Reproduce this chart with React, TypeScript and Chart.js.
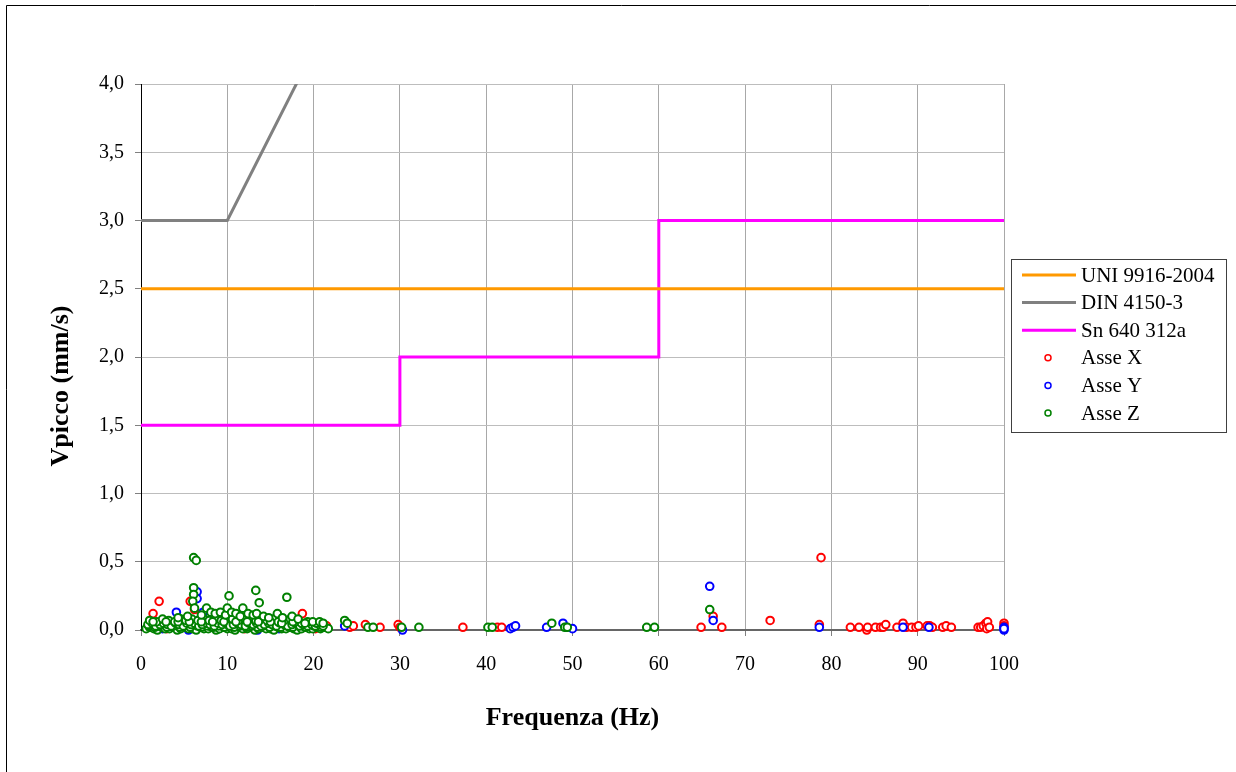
import React, { useEffect, useRef } from "react";
import { Chart, registerables } from "chart.js";

Chart.register(...registerables);

// ---------- Data ----------
const xTicks = [0, 10, 20, 30, 40, 50, 60, 70, 80, 90, 100];
const yTicks = [0, 0.5, 1, 1.5, 2, 2.5, 3, 3.5, 4];

const uniLine: [number, number][] = [[0, 2.5], [100, 2.5]];
const dinLine: [number, number][] = [[0, 3], [10, 3], [50, 8]];
const snLine: [number, number][] = [[0, 1.5], [30, 1.5], [30, 2], [60, 2], [60, 3], [100, 3]];

const asseX: [number, number][] = [
  [1.4, 0.12], [2.1, 0.21], [5.7, 0.21], [18.7, 0.12], [6.2, 0.15],
  [3.0, 0.01], [5.0, 0.03], [8.5, 0.02], [12.0, 0.01], [14.5, 0.03], [17.0, 0.02], [20.2, 0.01], [21.5, 0.03],
  [24.2, 0.02], [24.6, 0.03], [26.0, 0.04], [27.7, 0.02], [29.8, 0.04], [30.0, 0.02], [37.3, 0.02],
  [41.3, 0.02], [41.8, 0.02], [64.9, 0.02], [66.3, 0.10], [67.3, 0.02], [72.9, 0.07], [78.6, 0.04],
  [78.8, 0.53], [82.2, 0.02], [83.2, 0.02], [84.1, 0.0], [84.2, 0.02], [85.1, 0.02], [85.7, 0.02],
  [86.0, 0.02], [86.3, 0.04], [87.6, 0.02], [88.3, 0.05], [88.7, 0.02], [89.3, 0.02], [89.8, 0.02],
  [90.1, 0.03], [91.1, 0.03], [91.4, 0.03], [91.7, 0.02], [92.9, 0.02], [93.3, 0.03], [93.9, 0.02],
  [97.0, 0.02], [97.3, 0.02], [97.6, 0.03], [97.9, 0.05], [98.1, 0.06], [98.0, 0.01], [98.3, 0.02],
  [100, 0.05], [100, 0.03],
];

const asseY: [number, number][] = [
  [4.1, 0.13], [6.5, 0.28], [6.5, 0.23], [7.2, 0.13], [1.0, 0.03], [2.5, 0.01], [5.5, 0.0], [9.0, 0.01],
  [11.0, 0.02], [13.5, 0.0], [16.0, 0.01], [19.0, 0.02],
  [23.6, 0.03], [30.3, 0.0], [42.8, 0.01], [43.1, 0.02], [43.4, 0.03], [47.0, 0.02], [48.9, 0.05],
  [49.3, 0.02], [50.0, 0.01], [65.9, 0.32], [66.3, 0.07], [78.6, 0.02], [88.3, 0.02], [91.3, 0.02],
  [100, 0.0], [100, 0.02], [100, 0.01],
];

const asseZ: [number, number][] = [
  // bottom row
  [0.6, 0.01], [1.0, 0.02], [1.5, 0.01], [1.9, 0.0], [2.4, 0.02], [2.8, 0.01], [3.3, 0.01], [3.7, 0.02],
  [4.2, 0.0], [4.6, 0.01], [5.1, 0.02], [5.5, 0.01], [6.0, 0.01], [6.4, 0.0], [6.9, 0.02], [7.3, 0.01],
  [7.8, 0.01], [8.2, 0.02], [8.7, 0.0], [9.1, 0.01], [9.6, 0.02], [10.0, 0.01], [10.5, 0.01], [10.9, 0.0],
  [11.4, 0.02], [11.8, 0.01], [12.3, 0.01], [12.7, 0.02], [13.2, 0.0], [13.6, 0.01], [14.1, 0.02],
  [14.5, 0.01], [15.0, 0.01], [15.4, 0.0], [15.9, 0.02], [16.3, 0.01], [16.8, 0.01], [17.2, 0.02],
  [17.7, 0.01], [18.1, 0.0], [18.6, 0.01], [19.0, 0.02], [19.5, 0.01], [19.9, 0.01], [20.4, 0.02],
  [20.8, 0.01], [21.3, 0.02], [21.7, 0.01],
  // between rows
  [0.9, 0.03], [1.6, 0.02], [2.1, 0.03], [3.0, 0.02], [3.8, 0.03], [4.5, 0.02], [5.0, 0.03], [5.7, 0.02],
  [6.5, 0.03], [7.0, 0.02], [7.7, 0.03], [8.4, 0.02], [9.0, 0.03], [9.7, 0.02], [10.2, 0.03], [10.8, 0.02],
  [11.5, 0.03], [12.2, 0.02], [12.9, 0.03], [13.5, 0.02], [14.2, 0.03], [14.9, 0.02], [15.5, 0.03],
  [16.2, 0.02], [16.9, 0.03], [17.6, 0.02], [18.3, 0.03], [19.1, 0.02], [20.0, 0.03], [20.9, 0.02],
  // second row
  [0.8, 0.04], [1.3, 0.05], [1.7, 0.03], [2.2, 0.04], [2.6, 0.05], [3.1, 0.04], [3.5, 0.03], [4.0, 0.05],
  [4.4, 0.04], [4.9, 0.03], [5.3, 0.05], [5.8, 0.04], [6.2, 0.05], [6.7, 0.03], [7.1, 0.04], [7.6, 0.05],
  [8.0, 0.04], [8.5, 0.03], [8.9, 0.05], [9.4, 0.04], [9.8, 0.05], [10.3, 0.03], [10.7, 0.04], [11.2, 0.05],
  [11.6, 0.04], [12.1, 0.03], [12.5, 0.05], [13.0, 0.04], [13.4, 0.05], [13.9, 0.03], [14.3, 0.04],
  [14.8, 0.05], [15.2, 0.04], [15.7, 0.03], [16.1, 0.05], [16.6, 0.04], [17.0, 0.03], [17.5, 0.04],
  [17.9, 0.05], [18.4, 0.03], [18.8, 0.04], [19.3, 0.03], [19.8, 0.04], [20.2, 0.03], [20.7, 0.04], [21.1, 0.03],
  // third row
  [1.0, 0.07], [1.8, 0.06], [2.5, 0.08], [3.2, 0.07], [3.9, 0.06], [4.6, 0.08], [5.2, 0.07], [5.9, 0.08],
  [6.6, 0.07], [7.3, 0.08], [7.9, 0.07], [8.6, 0.08], [9.3, 0.07], [9.9, 0.09], [10.6, 0.08], [11.3, 0.07],
  [11.9, 0.09], [12.6, 0.08], [13.3, 0.07], [13.9, 0.08], [14.6, 0.07], [15.3, 0.08], [15.9, 0.06],
  [16.6, 0.07], [17.3, 0.08], [17.9, 0.06], [18.6, 0.05], [19.3, 0.06],
  [1.4, 0.06], [2.9, 0.06], [4.3, 0.06], [5.6, 0.06], [7.0, 0.06], [8.3, 0.06], [9.6, 0.06], [11.0, 0.06],
  [12.3, 0.06], [13.6, 0.06], [15.0, 0.06], [16.3, 0.05], [17.6, 0.06], [19.0, 0.05], [20.3, 0.05],
  // upper envelope
  [4.3, 0.09], [5.4, 0.1], [7.0, 0.11], [7.6, 0.16], [8.1, 0.13], [8.6, 0.12], [9.2, 0.13], [9.8, 0.11],
  [10.0, 0.16], [10.5, 0.13], [11.0, 0.12], [11.5, 0.1], [11.8, 0.16], [12.4, 0.12], [13.0, 0.11],
  [13.4, 0.12], [14.2, 0.1], [14.8, 0.09], [15.8, 0.12], [16.4, 0.09], [17.5, 0.1], [18.2, 0.08],
  [19.9, 0.06], [20.7, 0.06],
  // outliers
  [6.1, 0.53], [6.4, 0.51], [6.1, 0.31], [6.1, 0.26], [6.0, 0.21], [6.2, 0.16], [10.2, 0.25], [13.3, 0.29],
  [13.7, 0.2], [16.9, 0.24],
  // beyond cluster
  [21.1, 0.05], [23.6, 0.07], [23.9, 0.05], [26.3, 0.02], [26.9, 0.02], [30.2, 0.02], [32.2, 0.02],
  [40.2, 0.02], [40.7, 0.02], [47.6, 0.05], [49.1, 0.02], [49.4, 0.02], [58.6, 0.02], [59.5, 0.02], [65.9, 0.15],
];

const legendItems = [
  { label: "UNI 9916-2004", color: "#FF9900", kind: "line" },
  { label: "DIN 4150-3", color: "#808080", kind: "line" },
  { label: "Sn 640 312a", color: "#FF00FF", kind: "line" },
  { label: "Asse X", color: "#FF0000", kind: "point" },
  { label: "Asse Y", color: "#0000FF", kind: "point" },
  { label: "Asse Z", color: "#008000", kind: "point" },
];

const SERIF = "'Liberation Serif', 'Times New Roman', serif";

const toXY = (arr: [number, number][]) => arr.map(([x, y]) => ({ x, y }));

const framePlugin = {
  id: "frame",
  beforeDraw(chart: any) {
    const ctx = chart.ctx;
    ctx.save();
    ctx.fillStyle = "#fff";
    ctx.fillRect(0, 0, chart.width, chart.height);
    ctx.strokeStyle = "#000";
    ctx.lineWidth = 1;
    ctx.beginPath();
    ctx.moveTo(6.5, chart.height + 5);
    ctx.lineTo(6.5, 5.5);
    ctx.lineTo(chart.width + 5, 5.5);
    ctx.stroke();
    ctx.restore();
  },
};

const titlesPlugin = {
  id: "titles",
  afterDraw(chart: any) {
    const ctx = chart.ctx;
    const area = chart.chartArea;
    ctx.save();
    ctx.fillStyle = "#000";
    ctx.font = `bold 26px ${SERIF}`;
    ctx.textAlign = "center";
    ctx.textBaseline = "middle";
    ctx.fillText("Frequenza (Hz)", (area.left + area.right) / 2, 718);
    ctx.translate(61, 386);
    ctx.rotate(-Math.PI / 2);
    ctx.fillText("Vpicco (mm/s)", 0, 0);
    ctx.restore();
  },
};

const legendPlugin = {
  id: "customLegend",
  afterDraw(chart: any) {
    const ctx = chart.ctx;
    ctx.save();
    const bx = 1011.5, by = 259.5, bw = 215, bh = 173;
    ctx.fillStyle = "#fff";
    ctx.fillRect(bx, by, bw, bh);
    ctx.strokeStyle = "#404040";
    ctx.lineWidth = 1;
    ctx.strokeRect(bx, by, bw, bh);
    ctx.font = `21px ${SERIF}`;
    ctx.textBaseline = "middle";
    ctx.textAlign = "left";
    legendItems.forEach((it, i) => {
      const y = 275 + i * 27.6;
      if (it.kind === "line") {
        ctx.strokeStyle = it.color;
        ctx.lineWidth = 3;
        ctx.beginPath();
        ctx.moveTo(1022, y);
        ctx.lineTo(1076, y);
        ctx.stroke();
      } else {
        ctx.strokeStyle = it.color;
        ctx.fillStyle = "#fff";
        ctx.lineWidth = 1.5;
        ctx.beginPath();
        ctx.arc(1048, y, 3, 0, Math.PI * 2);
        ctx.fill();
        ctx.stroke();
      }
      ctx.fillStyle = "#000";
      ctx.fillText(it.label, 1081, y + 1);
    });
    ctx.restore();
  },
};

export default function App() {
  const ref = useRef<HTMLCanvasElement | null>(null);

  useEffect(() => {
    if (!ref.current) return;
    const lineDs = (label: string, data: [number, number][], color: string) => ({
      label,
      data: toXY(data),
      showLine: true,
      borderColor: color,
      backgroundColor: color,
      borderWidth: 3,
      pointRadius: 0,
      tension: 0,
      order: 3,
    });
    const ptDs = (label: string, data: [number, number][], color: string, order: number) => ({
      label,
      data: toXY(data),
      showLine: false,
      borderColor: color,
      backgroundColor: "#fff",
      pointBorderColor: color,
      pointBackgroundColor: "#fff",
      pointRadius: 3.8,
      pointBorderWidth: 2,
      pointHoverRadius: 3.8,
      clip: false,
      order,
    });

    const tickFont = { family: SERIF, size: 20 };

    const chart = new Chart(ref.current, {
      type: "scatter",
      data: {
        datasets: [
          lineDs("UNI 9916-2004", uniLine, "#FF9900"),
          lineDs("DIN 4150-3", dinLine, "#808080"),
          lineDs("Sn 640 312a", snLine, "#FF00FF"),
          ptDs("Asse X", asseX, "#FF0000", 2),
          ptDs("Asse Y", asseY, "#0000FF", 1),
          ptDs("Asse Z", asseZ, "#008000", 0),
        ] as any,
      },
      options: {
        responsive: false,
        animation: false,
        events: [],
        layout: { padding: { left: 0, top: 84, right: 232, bottom: 82 } },
        plugins: { legend: { display: false }, tooltip: { enabled: false } },
        scales: {
          x: {
            type: "linear",
            min: xTicks[0],
            max: xTicks[xTicks.length - 1],
            afterBuildTicks: (s: any) => {
              s.ticks = xTicks.map((v) => ({ value: v }));
            },
            ticks: { font: tickFont, color: "#000", padding: 17, maxRotation: 0 },
            grid: { color: "#A8A8A8", tickColor: "#808080", tickLength: 6, lineWidth: 1 },
            border: { color: "#666666", width: 2 },
            afterFit: (s: any) => {
              s.height = 60;
            },
          },
          y: {
            type: "linear",
            min: yTicks[0],
            max: yTicks[yTicks.length - 1],
            afterBuildTicks: (s: any) => {
              s.ticks = yTicks.map((v) => ({ value: v }));
            },
            ticks: {
              font: tickFont,
              color: "#000",
              padding: 11,
              callback: (v: any) => Number(v).toFixed(1).replace(".", ","),
            },
            grid: { color: "#BDBDBD", tickColor: "#808080", tickLength: 6, lineWidth: 1 },
            border: { color: "#000", width: 1 },
            afterFit: (s: any) => {
              s.width = 141;
            },
          },
        },
      } as any,
      plugins: [framePlugin, titlesPlugin, legendPlugin],
    });
    return () => chart.destroy();
  }, []);

  return (
    <div style={{ position: "fixed", left: 0, top: 0, width: 1236, height: 772, overflow: "hidden", background: "#fff" }}>
      <canvas ref={ref} width={1236} height={772} style={{ display: "block", width: 1236, height: 772 }} />
    </div>
  );
}
